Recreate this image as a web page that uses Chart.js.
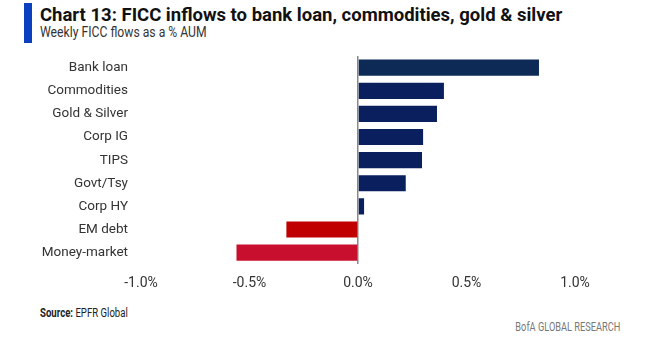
<!DOCTYPE html>
<html>
<head>
<meta charset="utf-8">
<script src="https://cdn.jsdelivr.net/npm/chart.js@4/dist/chart.umd.min.js"></script>
<style>
  body { margin: 0; background: #fff; font-family: Roboto, sans-serif; }
  #page { position: relative; width: 648px; height: 351px; overflow: hidden; }
  #bar { position: absolute; left: 24px; top: 3px; width: 8px; height: 40px; background: #0a3fc0; }
  #title { position: absolute; left: 40px; top: 4px; font-size: 18.5px; font-weight: bold; color: #111; white-space: nowrap; }
  #subtitle { position: absolute; left: 40px; top: 24px; font-size: 14px; color: #333; white-space: nowrap; transform: scaleX(0.87); transform-origin: left; }
  #chartBox { position: absolute; left: 0; top: 35px; width: 648px; height: 268px; }
  #source { position: absolute; left: 40px; top: 306px; font-size: 12px; color: #222; white-space: nowrap; transform: scaleX(0.8); transform-origin: left; }
  #bofa { position: absolute; right: 28px; top: 320px; font-size: 12px; color: #777; white-space: nowrap; transform: scaleX(0.77); transform-origin: right; }
</style>
</head>
<body>
<div id="page">
  <div id="bar"></div>
  <div id="title">Chart 13: FICC inflows to bank loan, commodities, gold &amp; silver</div>
  <div id="subtitle">Weekly FICC flows as a % AUM</div>
  <div id="chartBox"><canvas id="flows_Chart"></canvas></div>
  <div id="source"><b>Source:</b> EPFR Global</div>
  <div id="bofa">BofA GLOBAL RESEARCH</div>
</div>
<script>
// categories, top to bottom
var categories = ["Bank loan", "Commodities", "Gold & Silver", "Corp IG", "TIPS",
    "Govt/Tsy", "Corp HY", "EM debt", "Money-market"];

// weekly flows, % of AUM
var flowValues = [0.834, 0.396, 0.364, 0.30, 0.295, 0.22, 0.028, -0.33, -0.56];

var barColors = ["#0c2a55", "#0a205e", "#0a205e", "#0a205e", "#0a205e",
    "#0a205e", "#0a205e", "#c00000", "#c8102e"];

var xTicks = [-1.0, -0.5, 0.0, 0.5, 1.0];

var ctx = document.getElementById("flows_Chart").getContext("2d");

var flows_Chart = new Chart(ctx, {
    type: "bar",
    data: {
        labels: categories,
        datasets: [{
            data: flowValues,
            backgroundColor: barColors,
            borderWidth: 0,
            barPercentage: 0.7,
            categoryPercentage: 1.0
        }]
    },
    options: {
        indexAxis: "y",
        responsive: true,
        maintainAspectRatio: false,
        animation: false,
        layout: { padding: { right: 73, top: 2 } },
        plugins: { legend: { display: false }, tooltip: { enabled: false } },
        scales: {
            x: {
                min: -1.0,
                max: 1.0,
                afterBuildTicks: function (scale) {
                    scale.ticks = xTicks.map(function (v) { return { value: v }; });
                },
                ticks: {
                    color: "#333",
                    font: { family: "Roboto, sans-serif", size: 14 },
                    padding: 11,
                    maxRotation: 0,
                    callback: function (v) { return Number(v).toFixed(1) + "%"; }
                },
                grid: {
                    drawTicks: false,
                    color: function (c) { return c.tick && c.tick.value === 0 ? "#888" : "rgba(0,0,0,0)"; },
                    lineWidth: 1.5
                },
                border: { display: false }
            },
            y: {
                afterFit: function (scale) { scale.width = 141; },
                ticks: { color: "#333", font: { family: "Roboto, sans-serif", size: 13.5 }, padding: 13 },
                grid: { display: false, drawTicks: false },
                border: { display: false }
            }
        }
    }
});
</script>
</body>
</html>
